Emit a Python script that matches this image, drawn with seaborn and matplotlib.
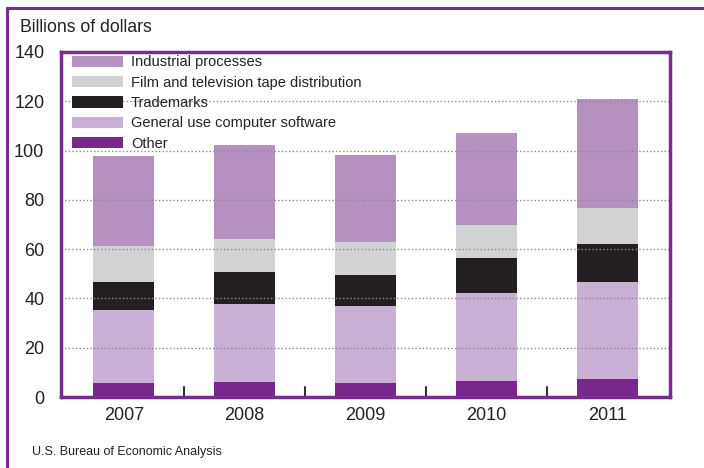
import matplotlib
matplotlib.use("Agg")
import matplotlib.pyplot as plt
import seaborn as sns
import numpy as np
import pandas as pd
from matplotlib.patches import Patch
from matplotlib.lines import Line2D

years = ["2007", "2008", "2009", "2010", "2011"]
other = [5.6, 6.0, 5.6, 6.4, 7.2]
software = [29.6, 31.6, 31.2, 35.7, 39.3]
trademarks = [11.3, 13.0, 12.6, 14.3, 15.5]
film_tv = [14.7, 13.5, 13.5, 13.3, 14.6]
industrial = [36.5, 38.1, 35.2, 37.4, 44.2]

series_names = ["Other", "General use computer software", "Trademarks",
                "Film and television tape distribution", "Industrial processes"]
series_vals = [other, software, trademarks, film_tv, industrial]
colors = ["#78288C", "#C9B1D5", "#231F20", "#D1D2D4", "#B591C1"]
purple = "#7B2A8E"

sns.set_theme(style="white")
plt.rcParams['font.family'] = ['Liberation Sans', 'DejaVu Sans']

fig = plt.figure(figsize=(7.04, 4.68), dpi=100)
ax = fig.add_axes([61/704, 1 - 397/468, (670-61)/704, (397-52)/468])

cum = np.cumsum(np.array(series_vals), axis=0)
df = pd.DataFrame({"year": years})
for i in range(len(series_names) - 1, -1, -1):
    df["v"] = cum[i]
    sns.barplot(data=df, x="year", y="v", color=colors[i], saturation=1,
                width=0.505, ax=ax, zorder=2, linewidth=0)

ax.set_xlim(-0.52, 4.52)
ax.set_ylim(0, 140)
ax.set_yticks(range(0, 141, 20))
ax.set_xlabel("")
ax.set_ylabel("")
for y in range(20, 140, 20):
    ax.axhline(y, color="#8a8a8a", lw=1.0, linestyle=(0, (1, 1.6)), zorder=3)

for s in ax.spines.values():
    s.set_color(purple)
    s.set_linewidth(2.5)
    s.set_visible(True)
    s.set_zorder(5)

ax.tick_params(axis="y", length=0, labelsize=13, pad=12, colors="#222222")
ax.tick_params(axis="x", length=0, labelsize=13, pad=7, colors="#222222")
for xm in [0.5, 1.5, 2.5, 3.5]:
    ax.plot([xm, xm], [0, 4], color="#333333", lw=1.5, zorder=4)

handles = [Patch(facecolor=colors[i], edgecolor="none") for i in range(4, -1, -1)]
labels = [series_names[i] for i in range(4, -1, -1)]
leg = ax.legend(handles, labels, loc="upper left", bbox_to_anchor=(0.018, 0.99),
                frameon=False, fontsize=10.5, handlelength=3.5, handleheight=0.8,
                handletextpad=0.55, labelspacing=0.43, borderaxespad=0.0,
                borderpad=0.0)
for t in leg.get_texts():
    t.set_color("#222222")

fig.text(20/704, 1 - 28/468, "Billions of dollars", fontsize=12.7, color="#222222",
         va="center", ha="left")
fig.text(32/704, 1 - 452/468, "U.S. Bureau of Economic Analysis", fontsize=9,
         color="#222222", va="center", ha="left")

fig.add_artist(Line2D([7.5/704, 7.5/704], [0, 1 - 8/468], transform=fig.transFigure,
                      color=purple, lw=2.2))
fig.add_artist(Line2D([6.5/704, 1], [1 - 8/468, 1 - 8/468], transform=fig.transFigure,
                      color=purple, lw=2.2))

fig.savefig("out.png", dpi=100)
